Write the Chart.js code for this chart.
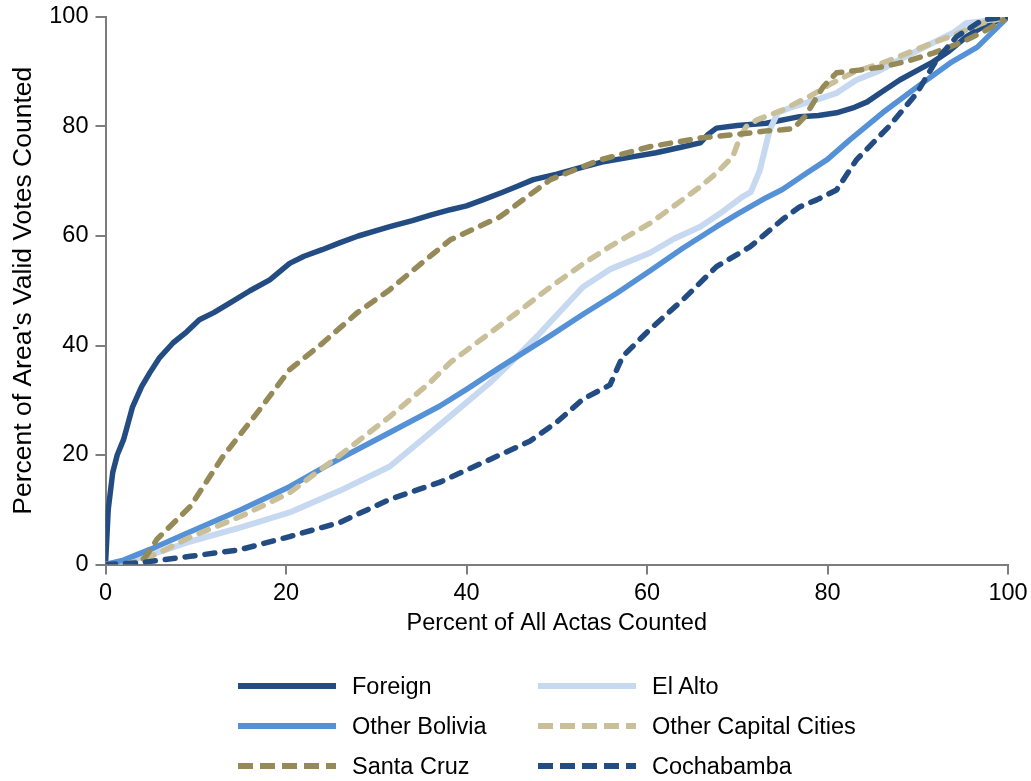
<!DOCTYPE html>
<html>
<head>
<meta charset="utf-8">
<script src="https://cdn.jsdelivr.net/npm/chart.js@4/dist/chart.umd.min.js"></script>
<style>
  html, body { margin: 0; padding: 0; background: #ffffff; }
  #wrap { position: relative; width: 1031px; height: 781px; }
  #chart { position: absolute; left: 0; top: 0; }
  .legend-item { position: absolute; height: 40px; display: flex; align-items: center;
    font-family: "Liberation Sans", Arial, Helvetica, sans-serif; font-size: 23.5px; color: #000; white-space: nowrap; }
  .legend-item svg { display: block; margin-right: 16px; }
</style>
</head>
<body>
<div id="wrap">
  <canvas id="chart" width="1031" height="781"></canvas>
  <div id="legend"></div>
</div>
<script>
// Cumulative share of each area's valid votes against the share of all actas counted
const xTicks = [0, 20, 40, 60, 80, 100];
const yTicks = [0, 20, 40, 60, 80, 100];

const foreignX = [0, 0.3, 0.8, 1.3, 2, 3, 4, 4.9, 6, 7.5, 9, 10.4, 12, 13.8, 16, 18.2, 20.4, 22, 24, 26, 28, 30, 31.5, 34, 36, 38.2, 40, 41.8, 44, 45.5, 47.4, 50, 52.9, 55, 58.5, 61, 64, 65.9, 66.8, 67.7, 70, 73.2, 76.9, 79, 81, 83, 84.4, 86, 88, 90, 91.7, 93.5, 95.4, 97.5, 100];
const foreignY = [0, 10, 16.8, 20, 22.8, 28.8, 32.5, 35, 37.8, 40.5, 42.5, 44.7, 46, 47.8, 50, 52, 55, 56.3, 57.5, 58.8, 60, 61, 61.7, 62.8, 63.8, 64.8, 65.5, 66.6, 68, 69, 70.3, 71.3, 72.6, 73.5, 74.5, 75.2, 76.3, 77, 78.6, 79.7, 80.2, 80.6, 81.8, 82, 82.5, 83.5, 84.5, 86.3, 88.5, 90.3, 91.8, 93.8, 96.4, 98.5, 100];

const elAltoX = [0, 3, 6, 9.4, 15, 20.4, 26, 31.5, 35, 38.2, 42.6, 45, 48, 52.9, 56, 60.3, 63, 65.9, 68, 70.6, 71.5, 72.5, 73.6, 74.5, 76, 78.8, 81, 83.2, 85.5, 88, 91.7, 94, 95.4, 97, 100];
const elAltoY = [0, 0.8, 2.3, 4.2, 6.8, 9.5, 13.5, 17.9, 22.7, 27.1, 33.2, 37, 42, 50.7, 54, 56.9, 59.5, 61.7, 64, 67.2, 68, 72, 79.4, 82.5, 83.5, 84.9, 86.1, 88.5, 90, 92.2, 95.3, 97.2, 98.9, 99.2, 100];

const otherBoliviaX = [0, 2, 5, 9.4, 15, 20.4, 25, 31.5, 37, 40, 43.7, 49.3, 53, 56.6, 60.3, 64, 67.7, 70, 73.2, 75, 77.7, 80, 82.5, 86.1, 89.9, 93.6, 96.6, 100];
const otherBoliviaY = [0, 0.8, 2.8, 6, 10, 14.2, 18.5, 24.1, 28.9, 32, 36, 41.8, 45.8, 49.5, 53.6, 57.8, 61.7, 64, 67, 68.5, 71.5, 74, 77.6, 82.5, 87.2, 91.6, 94.5, 100];

const otherCapitalsX = [0, 2, 4, 6, 9.4, 15, 20.4, 26, 31.5, 36, 38.2, 42.6, 46, 49.3, 53, 56, 60.3, 63, 65.9, 67.7, 69.5, 70.3, 71, 72.2, 75, 78, 80.6, 83, 86.1, 89, 91.7, 94.5, 97.2, 100];
const otherCapitalsY = [0, 0, 0.8, 2.2, 5, 8.8, 13.1, 20, 27, 33.3, 36.9, 42.3, 46.5, 50.7, 55, 58.2, 62.3, 65.5, 69, 71.5, 74.5, 78, 80, 81.2, 83, 85.5, 88, 90, 91.6, 93.5, 95.3, 97, 98.9, 100];

const santaCruzX = [0, 3.5, 4.5, 5.7, 9.4, 13, 16.8, 20.4, 24.1, 27.9, 31.5, 35, 38.2, 43.7, 49.3, 54.8, 60.3, 65.9, 71.4, 73.2, 75, 76.2, 77.5, 79.5, 81, 83.5, 86.1, 89, 91.7, 93.5, 95.4, 97.5, 100];
const santaCruzY = [0, 0, 1.5, 4.6, 10.6, 19.7, 27.7, 35.6, 40.5, 46, 50.2, 55, 59.3, 63.5, 70.3, 73.9, 76.3, 77.9, 78.8, 79.2, 79.4, 79.6, 81.8, 87.2, 89.8, 90.3, 90.9, 92, 93.4, 94.5, 95.8, 97.5, 100];

const cochabambaX = [0, 3.8, 9.4, 14.9, 20.4, 26, 31.5, 37, 42.6, 47, 50, 52.9, 55.9, 57.3, 60.3, 64, 67.7, 71.4, 75, 76.9, 78.8, 81, 83.2, 86.8, 89.9, 92.1, 94.3, 97.2, 100];
const cochabambaY = [0, 0.3, 1.5, 2.7, 5.1, 7.7, 11.9, 15, 19.2, 22.5, 26, 30.2, 32.8, 38, 42.9, 48.4, 54.4, 58, 63, 65.3, 66.6, 68.4, 73.9, 80, 86.1, 92.2, 96.4, 99.5, 100];

const seriesNames = ["Foreign", "El Alto", "Other Bolivia", "Other Capital Cities", "Santa Cruz", "Cochabamba"];

const FONT = '"Liberation Sans", Arial, Helvetica, sans-serif';
const AXIS_GREY = '#7d7d7d';
const DASH = [10, 10];

function pts(xs, ys) { return xs.map((x, i) => ({ x: x, y: ys[i] })); }

const styles = [
  { color: '#234d82', width: 5.5, dash: [] },
  { color: '#c6d9f0', width: 6, dash: [] },
  { color: '#5591d6', width: 5.5, dash: [] },
  { color: '#c9bf99', width: 5.5, dash: DASH },
  { color: '#968b58', width: 5.5, dash: DASH },
  { color: '#234d82', width: 5.5, dash: DASH }
];
const seriesData = [
  pts(foreignX, foreignY),
  pts(elAltoX, elAltoY),
  pts(otherBoliviaX, otherBoliviaY),
  pts(otherCapitalsX, otherCapitalsY),
  pts(santaCruzX, santaCruzY),
  pts(cochabambaX, cochabambaY)
];

const datasets = seriesNames.map((name, i) => ({
  label: name,
  data: seriesData[i],
  borderColor: styles[i].color,
  backgroundColor: styles[i].color,
  borderWidth: styles[i].width,
  borderDash: styles[i].dash,
  borderCapStyle: styles[i].dash.length ? 'round' : 'butt',
  borderJoinStyle: 'round',
  pointRadius: 0,
  pointHoverRadius: 0,
  tension: 0,
  fill: false,
  // later series sit on top of earlier ones
  order: seriesNames.length - i
}));

const tickFont = { family: FONT, size: 23.5 };

new Chart(document.getElementById('chart'), {
  type: 'line',
  data: { datasets: datasets },
  options: {
    responsive: false,
    animation: false,
    events: [],
    layout: { padding: { top: 17, right: 23, bottom: 141, left: 0 } },
    plugins: { legend: { display: false }, tooltip: { enabled: false } },
    scales: {
      x: {
        type: 'linear', min: 0, max: 100,
        afterBuildTicks: (s) => { s.ticks = xTicks.map(v => ({ value: v })); },
        afterFit: (s) => { s.height = 75.5; s.paddingLeft = 0; s.paddingRight = 0; },
        ticks: { color: '#000', font: tickFont, padding: 5, maxRotation: 0, autoSkip: false },
        grid: { drawOnChartArea: false, drawTicks: true, tickLength: 10, color: AXIS_GREY, lineWidth: 2 },
        border: { display: true, color: AXIS_GREY, width: 2 },
        title: { display: true, text: 'Percent of All Actas Counted', color: '#000',
                 font: { family: FONT, size: 23.5 }, padding: { top: 0, bottom: 2 } }
      },
      y: {
        type: 'linear', min: 0, max: 100,
        afterBuildTicks: (s) => { s.ticks = yTicks.map(v => ({ value: v })); },
        afterFit: (s) => { s.width = 105.5; s.paddingTop = 0; s.paddingBottom = 0; },
        ticks: { color: '#000', font: tickFont, padding: 7, autoSkip: false },
        grid: { drawOnChartArea: false, drawTicks: true, tickLength: 10, color: AXIS_GREY, lineWidth: 2 },
        border: { display: true, color: AXIS_GREY, width: 2 },
        title: { display: true, text: "Percent of Area's Valid Votes Counted", color: '#000',
                 font: { family: FONT, size: 26.5 }, padding: { top: 8, bottom: 0 } }
      }
    }
  }
});

// Two-column legend below the plot, swatches built from the dataset styles
const legendSlots = [
  { left: 238, top: 666 }, { left: 538, top: 666 },
  { left: 238, top: 706 }, { left: 538, top: 706 },
  { left: 238, top: 746 }, { left: 538, top: 746 }
];
const legend = document.getElementById('legend');
const svgNS = 'http://www.w3.org/2000/svg';
seriesNames.forEach((name, i) => {
  const item = document.createElement('div');
  item.className = 'legend-item';
  item.style.left = legendSlots[i].left + 'px';
  item.style.top = legendSlots[i].top + 'px';
  const svg = document.createElementNS(svgNS, 'svg');
  svg.setAttribute('width', '98');
  svg.setAttribute('height', '10');
  const line = document.createElementNS(svgNS, 'line');
  line.setAttribute('x1', '0'); line.setAttribute('x2', '98');
  line.setAttribute('y1', '5'); line.setAttribute('y2', '5');
  line.setAttribute('stroke', styles[i].color);
  line.setAttribute('stroke-width', '6');
  if (styles[i].dash.length) line.setAttribute('stroke-dasharray', '15 7');
  svg.appendChild(line);
  const label = document.createElement('span');
  label.textContent = name;
  item.appendChild(svg);
  item.appendChild(label);
  legend.appendChild(item);
});
</script>
</body>
</html>
